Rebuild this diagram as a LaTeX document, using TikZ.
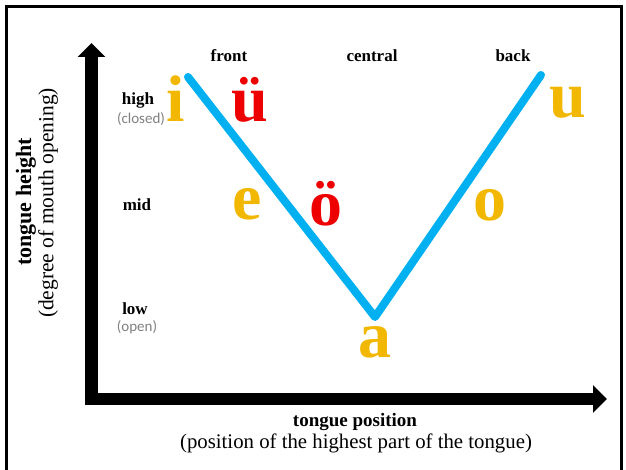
\documentclass[tikz,border=0pt]{standalone}
\usepackage{fontspec}
\setmainfont{Liberation Serif}
\newfontfamily\notefont{Carlito}
\usetikzlibrary{arrows.meta}

\definecolor{vgold}{RGB}{242,183,0}
\definecolor{vred}{RGB}{238,0,0}
\definecolor{vblue}{RGB}{0,176,240}
\definecolor{vgrey}{RGB}{128,128,128}

\tikzset{
    vowel/.style={inner sep=0pt, font=\bfseries\fontsize{66}{66}\selectfont},
    level/.style={inner sep=0pt, font=\bfseries\fontsize{17}{17}\selectfont},
    note/.style={inner sep=0pt, text=vgrey, font=\notefont\fontsize{15}{15}\selectfont},
    axis/.style={line width=12pt, -{Triangle[length=14pt,width=27pt]}}
}

\begin{document}
\begin{tikzpicture}[x=1pt, y=-1pt]
    \useasboundingbox (0,0) rectangle (626,470);
    \clip (0,0) rectangle (626,470);
    \draw[line width=3pt] (6.5,7) rectangle (621,490);
    % axes
    \coordinate (O) at (91.5,405);
    \coordinate (Ox) at (85,399);
    \coordinate (Y) at (91.5,43);
    \coordinate (X) at (607,399);
    \draw[axis, line width=13pt] (O) -- (Y);
    \draw[axis] (Ox) -- (X);
    % the V
    \coordinate (VF) at (188,77);
    \coordinate (VA) at (375,317);
    \coordinate (VB) at (541,75);
    \draw[vblue, line width=8pt, line cap=round, line join=round] (VF) -- (VA) -- (VB);
    % labels
    \path node[level] (front) at (229,56) {front}
        node[level] (central) at (372,56) {central}
        node[level] (back) at (513,56) {back}
        node[level] (high) at (138,100) {high}
        node[note] (closed) at (141,119) {(closed)}
        node[level] (mid) at (137,205) {mid}
        node[level] (low) at (135,309) {low}
        node[note] (open) at (137,327) {(open)};
    \path node[rotate=90, font=\bfseries\fontsize{22}{22}\selectfont] (height) at (26,202) {tongue height}
        node[rotate=90, font=\fontsize{21.5}{21.5}\selectfont] (degree) at (48,203) {(degree of mouth opening)}
        node[font=\bfseries\fontsize{19}{19}\selectfont] (pos) at (355,422) {tongue position}
        node[font=\fontsize{20.8}{20.8}\selectfont] (highest) at (356,443) {(position of the highest part of the tongue)};
    % vowels
    \path node[vowel, text=vgold] (i) at (176,99) {i}
        node[vowel, text=vred] (ue) at (250,100) {ü}
        node[vowel, text=vgold] (u) at (568,103) {u}
        node[vowel, text=vgold] (e) at (247,204) {e}
        node[vowel, text=vred] (oe) at (326,204) {ö}
        node[vowel, text=vgold] (o) at (490,205) {o}
        node[vowel, text=vgold] (a) at (375,342) {a};
\end{tikzpicture}
\end{document}
